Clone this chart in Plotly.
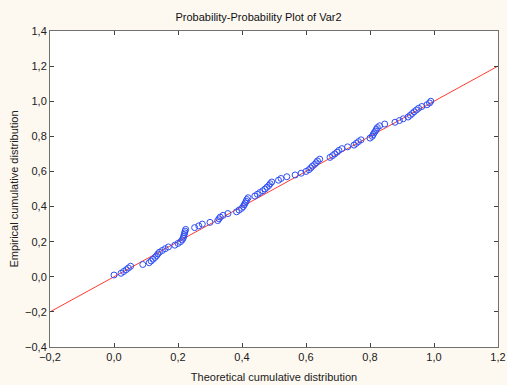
import plotly.graph_objects as go

# Empirical cumulative distribution (i/n) and theoretical CDF values
empirical = [
    0.01, 0.02, 0.03, 0.04, 0.05, 0.06, 0.07, 0.08, 0.09, 0.10,
    0.11, 0.12, 0.13, 0.14, 0.15, 0.16, 0.17, 0.18, 0.19, 0.20,
    0.21, 0.22, 0.23, 0.24, 0.25, 0.26, 0.27, 0.28, 0.29, 0.30,
    0.31, 0.32, 0.33, 0.34, 0.35, 0.36, 0.37, 0.38, 0.39, 0.40,
    0.41, 0.42, 0.43, 0.44, 0.45, 0.46, 0.47, 0.48, 0.49, 0.50,
    0.51, 0.52, 0.53, 0.54, 0.55, 0.56, 0.57, 0.58, 0.59, 0.60,
    0.61, 0.62, 0.63, 0.64, 0.65, 0.66, 0.67, 0.68, 0.69, 0.70,
    0.71, 0.72, 0.73, 0.74, 0.75, 0.76, 0.77, 0.78, 0.79, 0.80,
    0.81, 0.82, 0.83, 0.84, 0.85, 0.86, 0.87, 0.88, 0.89, 0.90,
    0.91, 0.92, 0.93, 0.94, 0.95, 0.96, 0.97, 0.98, 0.99, 1.00,
]
theoretical = [
    0.000, 0.022, 0.030, 0.038, 0.045, 0.052, 0.090, 0.110, 0.116, 0.122,
    0.128, 0.133, 0.137, 0.142, 0.151, 0.160, 0.170, 0.190, 0.200, 0.208,
    0.213, 0.216, 0.218, 0.219, 0.221, 0.222, 0.224, 0.252, 0.265, 0.276,
    0.300, 0.324, 0.328, 0.332, 0.341, 0.356, 0.383, 0.391, 0.399, 0.404,
    0.407, 0.410, 0.413, 0.415, 0.419, 0.440, 0.448, 0.456, 0.465, 0.472,
    0.478, 0.484, 0.488, 0.493, 0.514, 0.522, 0.540, 0.566, 0.585, 0.600,
    0.609, 0.615, 0.620, 0.627, 0.632, 0.636, 0.643, 0.675, 0.683, 0.690,
    0.697, 0.703, 0.712, 0.730, 0.750, 0.757, 0.764, 0.772, 0.800, 0.807,
    0.810, 0.813, 0.817, 0.820, 0.823, 0.830, 0.846, 0.878, 0.892, 0.904,
    0.919, 0.926, 0.932, 0.938, 0.945, 0.952, 0.962, 0.978, 0.986, 0.990,
]
ref_line_x = [-0.2, 1.2]
ref_line_y = [-0.2, 1.2]

x_ticks = [-0.2, 0.0, 0.2, 0.4, 0.6, 0.8, 1.0, 1.2]
y_ticks = [-0.4, -0.2, 0.0, 0.2, 0.4, 0.6, 0.8, 1.0, 1.2, 1.4]

fig = go.Figure()
fig.add_trace(go.Scatter(
    x=ref_line_x, y=ref_line_y, mode="lines",
    line=dict(color="#ff3b30", width=1), showlegend=False, hoverinfo="skip",
))
fig.add_trace(go.Scatter(
    x=theoretical, y=empirical, mode="markers",
    marker=dict(symbol="circle-open", size=6, color="#2f4ff5", line=dict(width=1)),
    showlegend=False,
))

axis_common = dict(
    showgrid=False, zeroline=False, showline=True, linecolor="#707070", linewidth=1,
    mirror="allticks", ticks="inside", ticklen=4, tickcolor="#404040",
    tickfont=dict(family="Liberation Sans, Arial, sans-serif", size=11, color="#202020"),
    tickformat=".1f", automargin=False, ticklabeloverflow="allow",
)

fig.update_layout(
    width=507, height=385,
    margin=dict(l=50, r=9, t=31, b=38, autoexpand=False),
    paper_bgcolor="#fdf9f1", plot_bgcolor="#ffffff",
    separators=", ",
    font=dict(family="Liberation Sans, Arial, sans-serif", size=11, color="#202020"),
    title=dict(text="Probability-Probability Plot of Var2", x=0.51, xanchor="center",
               y=0.955, yanchor="middle", font=dict(size=11, color="#101010")),
    xaxis=dict(range=[-0.2, 1.2], tickvals=x_ticks,
               title=dict(text="Theoretical cumulative distribution", standoff=11,
                          font=dict(size=11)),
               **axis_common),
    yaxis=dict(range=[-0.4, 1.4], tickvals=y_ticks,
               title=dict(text="Empirical cumulative distribution", standoff=4,
                          font=dict(size=11)),
               **axis_common),
)

fig.write_html(
    "out.html",
    config={"displayModeBar": False},
    post_script="document.body.style.margin='0';document.body.style.background='#fdf9f1';",
)
